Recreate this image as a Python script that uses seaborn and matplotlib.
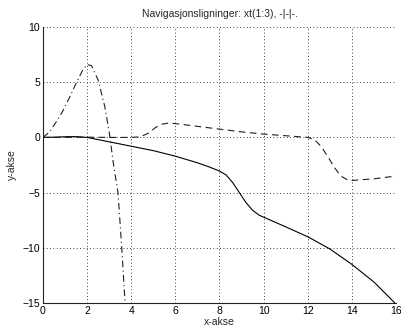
import numpy as np
import matplotlib
matplotlib.use("Agg")
import matplotlib.pyplot as plt
import seaborn as sns

# values
x1 = [0, 0.5, 1.0, 1.5, 2.0, 2.5, 3.0, 3.5, 4.0, 5.0, 6.0, 7.0, 7.5, 8.0, 8.3, 8.6,
      8.9, 9.2, 9.5, 9.8, 10.2, 11.0, 12.0, 13.0, 14.0, 15.0, 16.0]
y1 = [0, 0.02, 0.06, 0.07, 0.0, -0.2, -0.4, -0.6, -0.8, -1.2, -1.7, -2.3, -2.65, -3.05,
      -3.4, -4.1, -5.0, -5.9, -6.6, -7.05, -7.4, -8.1, -9.0, -10.1, -11.5, -13.1, -15.1]

x2 = [0, 1, 2, 3, 4, 4.4, 4.8, 5.1, 5.4, 5.7, 6.0, 7.0, 8.0, 9.0, 10.0, 11.0, 12.0,
      12.3, 12.6, 12.9, 13.2, 13.5, 13.8, 14.0, 15.0, 16.0]
y2 = [0, 0, 0.02, 0, 0, 0.05, 0.4, 0.9, 1.2, 1.3, 1.25, 1.0, 0.75, 0.5, 0.3, 0.15, 0.0,
      -0.2, -0.8, -1.7, -2.7, -3.5, -3.85, -3.9, -3.75, -3.5]

x3 = [0, 0.3, 0.6, 0.9, 1.2, 1.5, 1.8, 2.0, 2.2, 2.5, 2.8, 3.0, 3.2, 3.4, 3.57, 3.72, 3.8]
y3 = [0, 0.5, 1.4, 2.4, 3.6, 4.9, 6.1, 6.6, 6.5, 5.2, 2.8, 0.5, -2.5, -5.0, -10.0, -15.0, -17.0]

sns.set_style("white")
plt.rcParams['font.family'] = ['Liberation Sans', 'DejaVu Sans']

fig = plt.figure(figsize=(4.01, 3.34), dpi=100)
ax = fig.add_axes([0.1072, 0.0928, 0.8803, 0.8264])

sns.lineplot(x=x1, y=y1, ax=ax, color='black', linewidth=0.8, linestyle='-')
sns.lineplot(x=x2, y=y2, ax=ax, color='#202020', linewidth=0.8, dashes=False,
             linestyle=(0, (6, 4)))
sns.lineplot(x=x3, y=y3, ax=ax, color='#202020', linewidth=0.8,
             linestyle=(0, (6, 3, 1, 3)))

ax.set_xlim(0, 16)
ax.set_ylim(-15, 10)
ax.set_xticks(range(0, 17, 2))
ax.set_yticks([-15, -10, -5, 0, 5, 10])
ax.grid(True, color='black', linestyle=(0, (1, 3)), linewidth=0.6)
for s in ['top', 'right']:
    ax.spines[s].set_visible(False)
for s in ['left', 'bottom']:
    ax.spines[s].set_color('#222222')
    ax.spines[s].set_linewidth(0.8)
ax.tick_params(direction='in', length=3, width=0.6, labelsize=7.5, colors='black', pad=2)

ax.set_title('Navigasjonsligninger: xt(1:3), -|-|-.', fontsize=7.5, pad=7)
ax.set_xlabel('x-akse', fontsize=7.5, labelpad=1)
ax.set_ylabel('y-akse', fontsize=7.5, labelpad=4)

fig.savefig('out.png', dpi=100)
